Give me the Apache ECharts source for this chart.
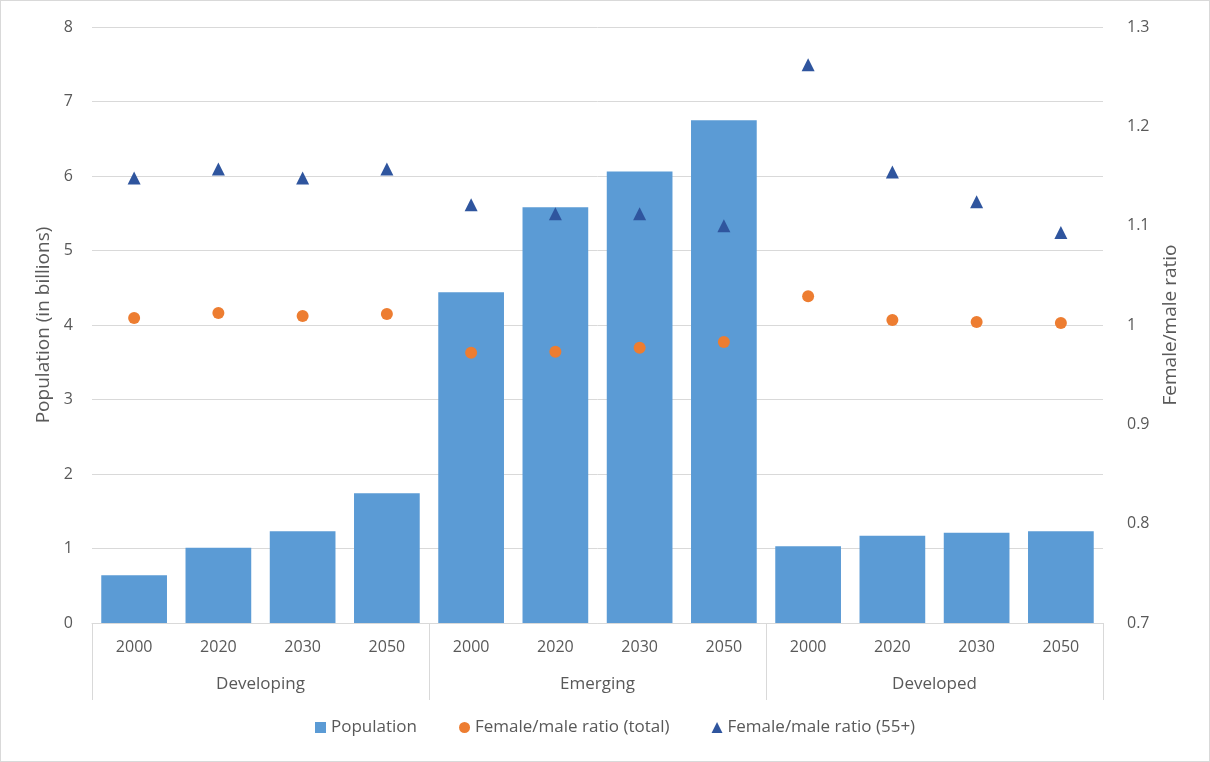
<!DOCTYPE html>
<html>
<head>
<meta charset="utf-8">
<script src="https://cdn.jsdelivr.net/npm/echarts@6/dist/echarts.min.js"></script>
<style>
  html, body { margin: 0; padding: 0; background: #fff; }
  #chart-container { width: 1208px; height: 760px; border: 1px solid #d9d9d9; }
</style>
</head>
<body>
<div id="chart-container"></div>
<script>
var dom = document.getElementById('chart-container');
var myChart = echarts.init(dom, null, { renderer: 'canvas' });

// data
const years = ['2000', '2020', '2030', '2050', '2000', '2020', '2030', '2050', '2000', '2020', '2030', '2050'];
const groups = ['Developing', 'Emerging', 'Developed'];
const population = [0.64, 1.01, 1.23, 1.74, 4.44, 5.58, 6.06, 6.75, 1.03, 1.17, 1.21, 1.23];
const ratioTotal = [1.007, 1.012, 1.009, 1.011, 0.972, 0.973, 0.977, 0.983, 1.029, 1.005, 1.003, 1.002];
const ratio55 = [1.148, 1.157, 1.148, 1.157, 1.121, 1.112, 1.112, 1.100, 1.262, 1.154, 1.124, 1.093];

const textColor = '#595959';
const gridColor = '#d9d9d9';
const font = 'Open Sans';

var option = {
    textStyle: { fontFamily: font },
    grid: { left: 91, right: 106, top: 26, bottom: 138 },
    legend: {
        bottom: 20,
        left: 309,
        itemGap: 42,
        itemWidth: 11,
        itemHeight: 11,
        textStyle: { color: textColor, fontSize: 17, fontFamily: font },
        data: [
            { name: 'Population', icon: 'rect' },
            { name: 'Female/male ratio (total)', icon: 'circle' },
            { name: 'Female/male ratio (55+)', icon: 'triangle' }
        ]
    },
    xAxis: [
        {
            type: 'category',
            data: years,
            position: 'bottom',
            axisLine: { show: true, lineStyle: { color: gridColor } },
            axisTick: { show: false },
            axisLabel: { color: textColor, fontSize: 16, margin: 16 }
        },
        {
            type: 'category',
            data: groups,
            position: 'bottom',
            axisLine: { show: false },
            axisTick: { show: true, length: 77, lineStyle: { color: gridColor } },
            axisLabel: { color: textColor, fontSize: 17, margin: 53 }
        }
    ],
    yAxis: [
        {
            type: 'value',
            name: 'Population (in billions)',
            nameLocation: 'middle',
            nameGap: 36,
            nameTextStyle: { color: textColor, fontSize: 19 },
            min: 0,
            max: 8,
            interval: 1,
            axisLine: { show: false },
            axisTick: { show: false },
            axisLabel: { color: textColor, fontSize: 16, margin: 19 },
            splitLine: { lineStyle: { color: gridColor, width: 1 } }
        },
        {
            type: 'value',
            name: 'Female/male ratio',
            nameLocation: 'middle',
            nameGap: 58,
            nameRotate: 90,
            nameTextStyle: { color: textColor, fontSize: 19 },
            min: 0.7,
            max: 1.3,
            interval: 0.1,
            axisLine: { show: false },
            axisTick: { show: false },
            axisLabel: {
                color: textColor, fontSize: 16, margin: 24,
                formatter: function (v) { return String(Math.round(v * 10) / 10); }
            },
            splitLine: { show: false }
        }
    ],
    series: [
        {
            name: 'Population',
            type: 'bar',
            barWidth: '78%',
            itemStyle: { color: '#5b9bd5' },
            data: population
        },
        {
            name: 'Female/male ratio (total)',
            type: 'scatter',
            yAxisIndex: 1,
            symbol: 'circle',
            symbolSize: 12,
            itemStyle: { color: '#ed7d31', opacity: 1 },
            data: ratioTotal
        },
        {
            name: 'Female/male ratio (55+)',
            type: 'scatter',
            yAxisIndex: 1,
            symbol: 'triangle',
            symbolSize: 13,
            itemStyle: { color: '#2f559e', opacity: 1 },
            data: ratio55
        }
    ]
};

myChart.setOption(option);
window.addEventListener('resize', myChart.resize);
</script>
</body>
</html>
